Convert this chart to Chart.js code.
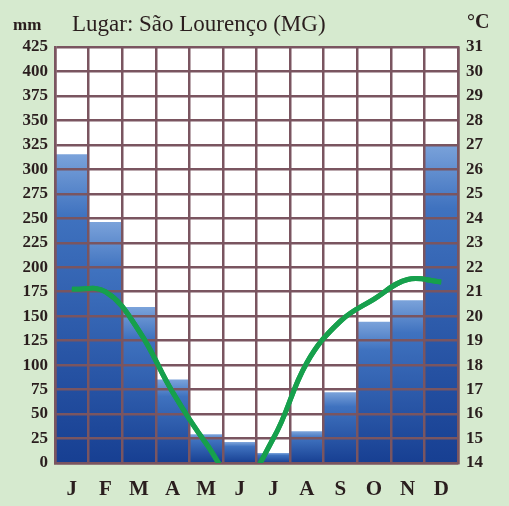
<!DOCTYPE html>
<html><head><meta charset="utf-8">
<script src="https://cdn.jsdelivr.net/npm/chart.js@4.4.0/dist/chart.umd.min.js"></script>
<style>html,body{margin:0;background:#d6eacf}canvas{display:block}</style>
</head><body>
<canvas id="chart" width="509" height="506"></canvas>
<script>
const meses = ['J', 'F', 'M', 'A', 'M', 'J', 'J', 'A', 'S', 'O', 'N', 'D'];
const chuva = [315, 246, 159, 85, 29, 21, 10, 32, 72, 144, 166, 325];
const temperatura = [21.1, 21.0, 19.4, 16.9, 14.8, 13.2, 15.0, 18.1, 19.8, 20.7, 21.5, 21.4];

const fonte = "'Liberation Serif', serif";
const corTexto = '#2a1e1e';
const corGrade = '#7a5560';

function corBarra(ctx) {
  const chart = ctx.chart;
  if (!chart.chartArea || ctx.type !== 'data') return '#2a5cae';
  const y = chart.scales.y;
  const topo = y.getPixelForValue(ctx.raw);
  const base = y.getPixelForValue(0);
  const g = chart.ctx.createLinearGradient(0, topo, 0, base);
  g.addColorStop(0, '#7aa2da');
  g.addColorStop(0.2, '#3f72bf');
  g.addColorStop(1, '#173f92');
  return g;
}

// fundo branco da área, textos do topo e linha redesenhada por cima da grade
const extras = {
  id: 'extras',
  beforeDraw(chart) {
    const c = chart.ctx, a = chart.chartArea;
    c.save();
    c.fillStyle = '#ffffff';
    c.fillRect(a.left, a.top, a.right - a.left, a.bottom - a.top);
    c.restore();
  },
  afterDraw(chart) {
    const c = chart.ctx, a = chart.chartArea;
    c.save();
    c.beginPath();
    c.rect(a.left, a.top, a.right - a.left, a.bottom - a.top);
    c.clip();
    chart.getDatasetMeta(1).controller.draw();
    c.restore();

    c.save();
    c.fillStyle = corTexto;
    c.textBaseline = 'alphabetic';
    c.font = 'bold 17px ' + fonte;
    c.fillText('mm', 13, 30);
    c.font = 'bold 20px ' + fonte;
    c.fillText('°C', 467, 28);
    c.font = '23px ' + fonte;
    c.fillText('Lugar: São Lourenço (MG)', 72, 31);
    c.restore();
  }
};

new Chart(document.getElementById('chart'), {
  type: 'bar',
  data: {
    labels: meses,
    datasets: [{
      type: 'bar',
      data: chuva,
      backgroundColor: corBarra,
      borderWidth: 0,
      categoryPercentage: 1,
      barPercentage: 1,
      yAxisID: 'y',
      order: 2
    },
    {
      type: 'line',
      data: temperatura,
      borderColor: '#16a04c',
      borderWidth: 5,
      pointRadius: 0,
      tension: 0.4,
      fill: false,
      clip: 0,
      yAxisID: 'y1',
      order: 1
    }]
  },
  options: {
    responsive: false,
    animation: false,
    layout: { padding: { top: 47, left: 0, right: 0, bottom: 0 } },
    plugins: {
      legend: { display: false },
      tooltip: { enabled: false }
    },
    scales: {
      x: {
        grid: { color: corGrade, lineWidth: 2.5, drawTicks: false, z: 1 },
        border: { color: corGrade, width: 2.5, z: 1 },
        ticks: { color: corTexto, font: { family: fonte, size: 21, weight: 'bold' }, padding: 14 },
        afterFit: s => { s.height = 43; }
      },
      y: {
        min: 0,
        max: 425,
        ticks: { stepSize: 25, color: corTexto, font: { family: fonte, size: 17, weight: 'bold' }, padding: 7 },
        grid: { color: corGrade, lineWidth: 2.5, drawTicks: false, z: 1 },
        border: { color: corGrade, width: 2.5, z: 1 },
        afterFit: s => { s.width = 55; }
      },
      y1: {
        position: 'right',
        min: 14,
        max: 31,
        ticks: { stepSize: 1, color: corTexto, font: { family: fonte, size: 17, weight: 'bold' }, padding: 8 },
        grid: { display: false, drawTicks: false },
        border: { color: corGrade, width: 2.5, z: 1 },
        afterFit: s => { s.width = 51; }
      }
    }
  },
  plugins: [extras]
});
</script>
</body></html>
